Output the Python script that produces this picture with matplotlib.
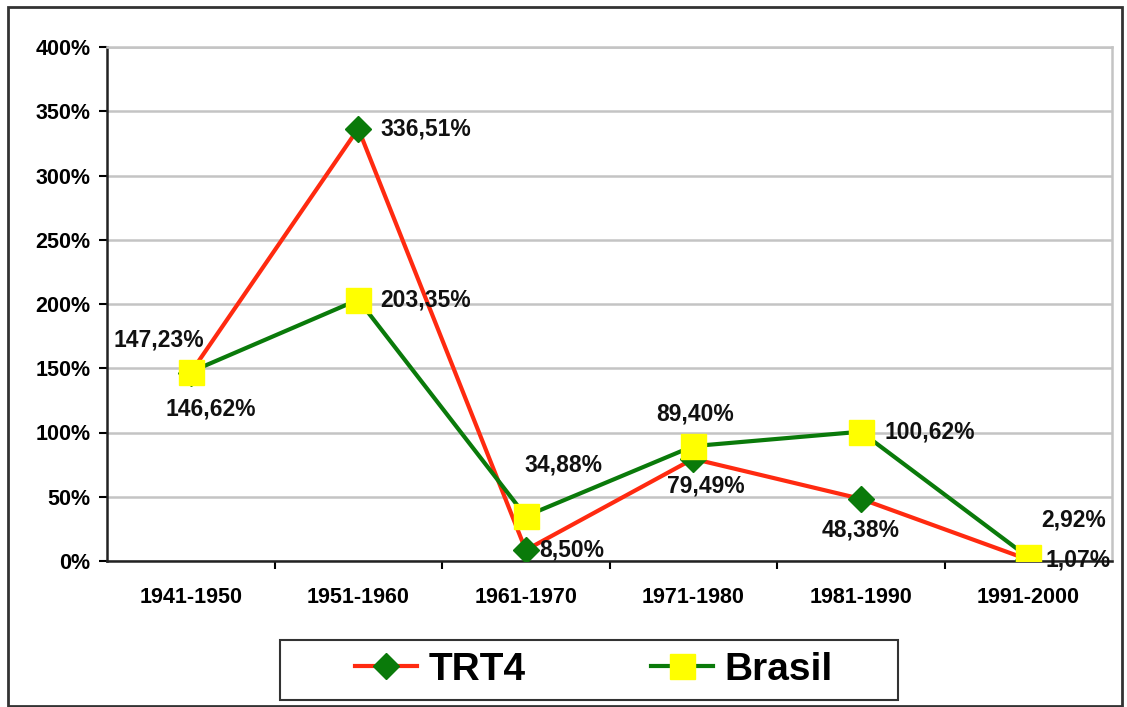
import matplotlib.pyplot as plt
from matplotlib.patches import Rectangle
from matplotlib.ticker import FuncFormatter, MultipleLocator

plt.rcParams['font.family'] = ['Liberation Sans', 'DejaVu Sans']
plt.rcParams['font.weight'] = 'bold'

# Data
periodos = ['1941-1950', '1951-1960', '1961-1970', '1971-1980', '1981-1990', '1991-2000']
trt4 = [146.62, 336.51, 8.50, 79.49, 48.38, 1.07]
brasil = [147.23, 203.35, 34.88, 89.40, 100.62, 2.92]

# label offsets in pixels (dx, dy, ha)
off_trt4 = [(20, -36, 'center'), (22, 0, 'left'), (13, 0, 'left'),
            (13, -27, 'center'), (0, -31, 'center'), (17, 0, 'left')]
off_brasil = [(-32, 32, 'center'), (22, 0, 'left'), (38, 51, 'center'),
              (2, 32, 'center'), (24, 0, 'left'), (45, 37, 'center')]

red = '#ff2a10'
green = '#0a7a0a'
yellow = '#ffff00'

fig = plt.figure(figsize=(11.27, 7.07), dpi=100)
ax = fig.add_axes([107 / 1127, 1 - 561 / 707, 1005 / 1127, 514 / 707])

x = list(range(len(periodos)))
l1, = ax.plot(x, trt4, color=red, lw=3, marker='D', ms=13.5,
              mfc=green, mec=green, zorder=3, label='TRT4')
l2, = ax.plot(x, brasil, color=green, lw=3, marker='s', ms=18,
              mfc=yellow, mec=yellow, zorder=4, label='Brasil')

def fmt(v):
    return f'{v:.2f}'.replace('.', ',') + '%'

for vals, offs in ((trt4, off_trt4), (brasil, off_brasil)):
    for i, v in enumerate(vals):
        dx, dy, ha = offs[i]
        ax.annotate(fmt(v), (i, v), xytext=(dx, dy), textcoords='offset pixels',
                    ha=ha, va='center', fontsize=16.5, fontweight='bold',
                    color='#111111', zorder=5)

ax.set_xlim(-0.5, len(periodos) - 0.5)
ax.set_ylim(0, 400)
ax.yaxis.set_major_locator(MultipleLocator(50))
ax.yaxis.set_major_formatter(FuncFormatter(lambda v, p: f'{v:.0f}%'))
ax.set_xticks(x)
ax.set_xticklabels(periodos)
ax.set_xticks([i + 0.5 for i in x[:-1]], minor=True)
ax.tick_params(axis='x', which='major', length=0, pad=19, labelsize=15.5)
ax.tick_params(axis='x', which='minor', length=6, width=1.5, direction='out')
ax.tick_params(axis='y', length=6, width=1.5, direction='out', pad=6, labelsize=15.5)
for lab in ax.get_xticklabels() + ax.get_yticklabels():
    lab.set_fontweight('bold')

ax.grid(axis='y', color='#c4c4c4', lw=1.8)
ax.set_axisbelow(True)
for s in ('top', 'right'):
    ax.spines[s].set_color('#c4c4c4')
    ax.spines[s].set_linewidth(1.8)
for s in ('left', 'bottom'):
    ax.spines[s].set_color('#222222')
    ax.spines[s].set_linewidth(1.8)

# legend: entries centred inside a drawn box
fig.legend(handles=[l1, l2], loc='center', ncol=2,
           bbox_to_anchor=(594 / 1127, 1 - 670 / 707),
           prop={'size': 28, 'weight': 'bold'}, frameon=False,
           handlelength=1.6, columnspacing=3.2, handletextpad=0.3)
fig.patches.append(Rectangle((280 / 1127, 1 - 700 / 707), 618 / 1127, 60 / 707,
                             transform=fig.transFigure, fill=False, ec='#333333', lw=1.5))

fig.patches.append(Rectangle((8 / 1127, 0.002), 1114 / 1127, 1 - 8 / 707, transform=fig.transFigure,
                             fill=False, ec='#333333', lw=2))

fig.savefig('out.png', dpi=100)
